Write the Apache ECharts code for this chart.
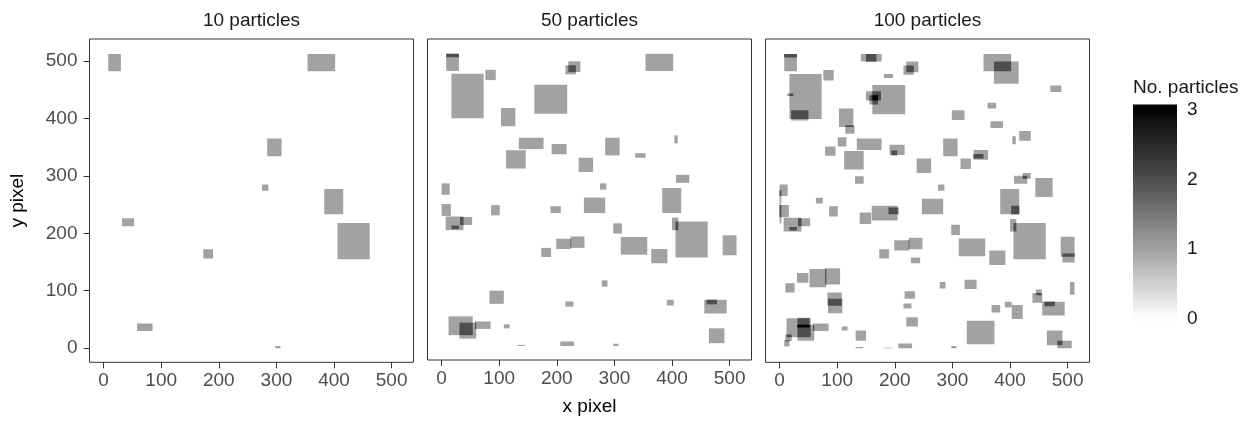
<!DOCTYPE html>
<html><head><meta charset="utf-8">
<script src="https://cdn.jsdelivr.net/npm/echarts@6/dist/echarts.min.js"></script>
<style>html,body{margin:0;padding:0;background:#fff}#c{width:1255px;height:421px}</style>
</head><body><div id="c"></div>
<script>
// ---------------- data ----------------
const panelTitles = ['10 particles', '50 particles', '100 particles'];
const panelCounts = [10, 50, 100];
const axisTickValues = [0, 100, 200, 300, 400, 500];
const legendTickValues = [0, 1, 2, 3];
const legendTitle = 'No. particles';
const xTitle = 'x pixel';
const yTitle = 'y pixel';

// particle footprints [x0, x1, y0, y1] in image pixels; first 10 particles
const particlesFirst10 = [
  [8, 30, 482, 512], [354, 402, 482, 512], [284, 309, 334, 365], [275, 286, 274, 285],
  [383, 416, 233, 277], [406, 462, 155, 218], [32, 53, 212, 226], [173, 190, 156, 172],
  [58, 85, 30, 43], [298, 307, 0, 4]
];
// particles 11-50
const particlesNext40 = [
  [8, 30, 506, 512], [17, 73, 399, 477], [76, 94, 466, 484], [220, 241, 480, 499],
  [215, 233, 476, 492], [161, 218, 407, 458], [103, 128, 385, 417], [134, 177, 345, 365],
  [191, 217, 336, 354], [112, 146, 311, 343], [238, 263, 305, 330], [336, 354, 330, 338],
  [404, 410, 355, 369], [407, 430, 286, 300], [0, 14, 265, 285], [247, 284, 233, 260],
  [0, 16, 228, 249], [86, 101, 229, 247], [189, 207, 233, 245], [7, 38, 203, 227],
  [17, 30, 205, 211], [298, 313, 197, 215], [400, 411, 203, 225], [199, 225, 170, 188],
  [224, 248, 172, 192], [311, 357, 160, 191], [364, 392, 145, 170], [488, 512, 159, 194],
  [278, 288, 104, 115], [83, 108, 74, 97], [215, 229, 69, 78], [391, 403, 71, 81],
  [456, 495, 57, 81], [460, 478, 73, 81], [464, 491, 5, 31], [12, 54, 19, 52],
  [31, 60, 13, 41], [108, 118, 31, 38], [132, 145, 0, 2], [206, 230, 0, 8]
];
// particles 51-100
const particlesNext50 = [
  [141, 168, 499, 512], [150, 177, 499, 512], [181, 197, 470, 477], [20, 50, 396, 414],
  [13, 24, 439, 443], [150, 176, 431, 447], [156, 171, 424, 440], [114, 130, 373, 388],
  [101, 116, 351, 367], [79, 97, 335, 351], [194, 204, 335, 344], [131, 146, 286, 299],
  [0, 3, 250, 275], [0, 3, 217, 249], [63, 75, 252, 262], [372, 415, 460, 499],
  [470, 489, 446, 457], [361, 376, 417, 427], [299, 321, 397, 414], [366, 388, 383, 395],
  [416, 436, 361, 378], [337, 362, 328, 345], [314, 332, 312, 330], [422, 436, 295, 305],
  [444, 474, 263, 296], [139, 159, 216, 236], [160, 205, 222, 248], [228, 244, 148, 158],
  [30, 50, 114, 131], [52, 81, 106, 138], [79, 105, 111, 139], [10, 26, 97, 113],
  [84, 109, 61, 86], [217, 235, 86, 99], [220, 240, 38, 54], [31, 52, 36, 53],
  [132, 150, 13, 31], [182, 195, 0, 1], [402, 416, 233, 248], [491, 512, 149, 165],
  [321, 342, 103, 119], [504, 512, 93, 115], [439, 456, 79, 96], [445, 455, 92, 102],
  [368, 383, 62, 75], [403, 422, 51, 75], [325, 373, 7, 48], [482, 507, 0, 13],
  [10, 21, 12, 24], [8, 17, 3, 14]
];

// ---------------- helpers ----------------
const FONT = '"Liberation Sans", Arial, Helvetica, sans-serif';
const FS = 19;
const AX_MIN = -24.5, AX_MAX = 538;
const LEG_MIN = 0, LEG_MAX = 3;

// white -> black gradient interpolated in CIE Lab (as ggplot does)
function grayFor(v) {
  const t = Math.max(0, Math.min(1, (v - LEG_MIN) / (LEG_MAX - LEG_MIN)));
  const L = 100 * (1 - t);
  const fy = (L + 16) / 116;
  const Y = L > 8 ? fy * fy * fy : L / 903.3;
  const s = Y <= 0.0031308 ? 12.92 * Y : 1.055 * Math.pow(Y, 1 / 2.4) - 0.055;
  const c = Math.round(Math.max(0, Math.min(1, s)) * 255);
  return 'rgb(' + c + ',' + c + ',' + c + ')';
}
function inter(a, b) {
  const x0 = Math.max(a[0], b[0]), x1 = Math.min(a[1], b[1]);
  const y0 = Math.max(a[2], b[2]), y1 = Math.min(a[3], b[3]);
  return (x1 > x0 && y1 > y0) ? [x0, x1, y0, y1] : null;
}
// count layers: each particle (1), pairwise overlaps (2), triple overlaps (3)
function layered(rects) {
  const out = rects.map(r => [r[0], r[1], r[2], r[3], 1]);
  const pairs = [];
  for (let i = 0; i < rects.length; i++) for (let j = i + 1; j < rects.length; j++) {
    const p = inter(rects[i], rects[j]);
    if (p) { pairs.push({ r: p, j: j }); out.push([p[0], p[1], p[2], p[3], 2]); }
  }
  pairs.forEach(pr => {
    for (let k = pr.j + 1; k < rects.length; k++) {
      const t = inter(pr.r, rects[k]);
      if (t) out.push([t[0], t[1], t[2], t[3], 3]);
    }
  });
  return out;
}

const allParticles = particlesFirst10.concat(particlesNext40, particlesNext50);

const panelLeft = [89.5, 427.5, 765.5];
const panelTop = 39, panelW = 324, panelH = 323.3;

const grids = [], xAxes = [], yAxes = [], series = [], graphics = [];
panelTitles.forEach((title, i) => {
  grids.push({ left: panelLeft[i], top: panelTop, width: panelW, height: panelH,
    show: true, borderColor: '#333333', borderWidth: 1, backgroundColor: '#ffffff' });
  xAxes.push({
    gridIndex: i, type: 'value', min: AX_MIN, max: AX_MAX, position: 'bottom',
    axisLine: { show: false, onZero: false }, splitLine: { show: false },
    axisTick: { show: true, length: 6, lineStyle: { color: '#333333', width: 1 }, customValues: axisTickValues },
    axisLabel: { customValues: axisTickValues, margin: 9, fontSize: FS, color: '#4d4d4d', fontFamily: FONT },
    name: i === 1 ? xTitle : '', nameLocation: 'middle', nameGap: 37,
    nameTextStyle: { fontSize: FS, color: '#000', fontFamily: FONT }
  });
  yAxes.push({
    gridIndex: i, type: 'value', min: AX_MIN, max: AX_MAX, position: 'left',
    axisLine: { show: false, onZero: false }, splitLine: { show: false },
    axisTick: { show: i === 0, length: 6, lineStyle: { color: '#333333', width: 1 }, customValues: axisTickValues },
    axisLabel: { show: i === 0, customValues: axisTickValues, margin: 12, fontSize: FS, color: '#4d4d4d', fontFamily: FONT },
    name: i === 0 ? yTitle : '', nameLocation: 'middle', nameGap: 62, nameRotate: 90,
    nameTextStyle: { fontSize: FS, color: '#000', fontFamily: FONT }
  });
  series.push({
    type: 'custom', xAxisIndex: i, yAxisIndex: i, silent: true, clip: true,
    encode: { x: [0, 1], y: [2, 3] },
    data: layered(allParticles.slice(0, panelCounts[i])),
    renderItem: function (params, api) {
      const a = api.coord([api.value(0), api.value(3)]);
      const b = api.coord([api.value(1), api.value(2)]);
      return { type: 'rect', shape: { x: a[0], y: a[1], width: b[0] - a[0], height: b[1] - a[1] },
        style: { fill: grayFor(api.value(4)) } };
    }
  });
  graphics.push({ type: 'text', x: panelLeft[i] + panelW / 2, y: 21, silent: true,
    style: { text: title, fontSize: FS, fill: '#1a1a1a', fontFamily: FONT, textAlign: 'center', textVerticalAlign: 'middle' } });
});

// colour bar (legend)
const barTop = 104.5, barH = 219.3;
const ext = (LEG_MAX - LEG_MIN) * 0.025 / 0.95;
grids.push({ left: 1133, top: barTop, width: 44, height: barH, show: false });
xAxes.push({ gridIndex: 3, type: 'value', min: 0, max: 1, show: false });
const legAxisBase = {
  gridIndex: 3, type: 'value', min: LEG_MIN - ext, max: LEG_MAX + ext,
  axisLine: { show: false, onZero: false }, splitLine: { show: false },
  axisTick: { show: true, inside: true, length: 8, lineStyle: { color: '#ffffff', width: 1 }, customValues: legendTickValues }
};
yAxes.push(Object.assign({}, legAxisBase, { position: 'right',
  axisLabel: { customValues: legendTickValues, margin: 10, fontSize: FS, color: '#1a1a1a', fontFamily: FONT } }));
yAxes.push(Object.assign({}, legAxisBase, { position: 'left', axisLabel: { show: false } }));
const stops = [];
for (let k = 0; k <= 30; k++) {
  const t = k / 30;
  const v = (LEG_MAX + ext) - t * (LEG_MAX - LEG_MIN + 2 * ext);
  stops.push({ offset: t, color: grayFor(v) });
}
series.push({
  type: 'custom', xAxisIndex: 3, yAxisIndex: 3, silent: true, z: 1,
  data: [[0, 1, LEG_MIN - ext, LEG_MAX + ext]],
  renderItem: function (params, api) {
    const a = api.coord([api.value(0), api.value(3)]);
    const b = api.coord([api.value(1), api.value(2)]);
    return { type: 'rect', shape: { x: a[0], y: a[1], width: b[0] - a[0], height: b[1] - a[1] },
      style: { fill: { type: 'linear', x: 0, y: 0, x2: 0, y2: 1, colorStops: stops } } };
  }
});
graphics.push({ type: 'text', x: 1133, y: 88, silent: true,
  style: { text: legendTitle, fontSize: FS, fill: '#1a1a1a', fontFamily: FONT, textAlign: 'left', textVerticalAlign: 'middle' } });

const chart = echarts.init(document.getElementById('c'), null, { renderer: 'canvas' });
chart.setOption({
  animation: false,
  backgroundColor: '#ffffff',
  grid: grids, xAxis: xAxes, yAxis: yAxes, series: series, graphic: graphics
});
</script></body></html>
